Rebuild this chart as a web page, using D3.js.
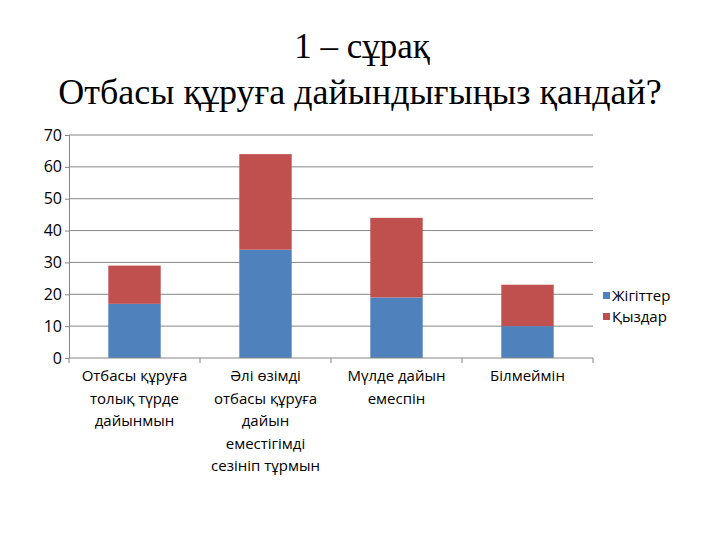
<!DOCTYPE html>
<html><head><meta charset="utf-8">
<script src="https://cdn.jsdelivr.net/npm/d3@7"></script>
<style>body{margin:0;background:#fff}</style>
</head><body>
<svg id="c" width="720" height="540"></svg>
<script>
const categories = [
  ["Отбасы құруға", "толық түрде", "дайынмын"],
  ["Әлі өзімді", "отбасы құруға", "дайын", "еместігімді", "сезініп тұрмын"],
  ["Мүлде дайын", "емеспін"],
  ["Білмеймін"]
];
const seriesNames = ["Жігіттер", "Қыздар"];
const boys = [17, 34, 19, 10];
const girls = [12, 30, 25, 13];
const yTicks = [0, 10, 20, 30, 40, 50, 60, 70];
const colors = ["#4F81BD", "#C0504D"];

const svg = d3.select("#c");
const mLeft = 69, mRight = 593, mTop = 135, mBottom = 358;

svg.append("text").attr("x", 362).attr("y", 58).attr("text-anchor", "middle")
  .attr("font-family", "Liberation Serif").attr("font-size", 35).text("1 – сұрақ");
svg.append("text").attr("x", 360).attr("y", 104).attr("text-anchor", "middle")
  .attr("font-family", "Liberation Serif").attr("font-size", 36).text("Отбасы құруға дайындығыңыз қандай?");

const idx = d3.range(categories.length);
const x = d3.scaleBand().domain(idx).range([mLeft, mRight]).paddingInner(0.6).paddingOuter(0.3);
const y = d3.scaleLinear().domain([0, 70]).range([mBottom, mTop]);

// gridlines
svg.append("g").selectAll("line").data(yTicks.slice(1)).join("line")
  .attr("x1", mLeft).attr("x2", mRight).attr("y1", d => y(d)).attr("y2", d => y(d))
  .attr("stroke", "#868686").attr("stroke-width", 1);

const stackData = idx.map(i => ({i, b: boys[i], g: girls[i]}));
const stack = d3.stack().keys(["b", "g"])(stackData);
svg.append("g").selectAll("g").data(stack).join("g").attr("fill", (d, k) => colors[k])
  .selectAll("rect").data(d => d).join("rect")
  .attr("x", d => x(d.data.i)).attr("width", x.bandwidth())
  .attr("y", d => y(d[1])).attr("height", d => y(d[0]) - y(d[1]));

// y axis
const ya = svg.append("g").attr("transform", `translate(${mLeft},0)`)
  .call(d3.axisLeft(y).tickValues(yTicks).tickSize(4).tickPadding(3));
ya.select(".domain").attr("stroke", "#868686");
ya.selectAll(".tick line").attr("stroke", "#868686");
ya.selectAll("text").attr("font-family", "Open Sans").attr("font-size", 16).attr("fill", "#000");

// x axis
const xa = svg.append("g").attr("transform", `translate(0,${mBottom})`);
xa.append("line").attr("x1", mLeft).attr("x2", mRight).attr("stroke", "#868686");
const bounds = d3.range(categories.length + 1).map(k => mLeft + k * (mRight - mLeft) / categories.length);
xa.selectAll(".t").data(bounds).join("line").attr("class", "t")
  .attr("x1", d => d).attr("x2", d => d).attr("y1", 0).attr("y2", 5).attr("stroke", "#868686");
xa.selectAll(".lab").data(categories).join("text").attr("class", "lab")
  .attr("text-anchor", "middle").attr("font-family", "Open Sans").attr("font-size", 15)
  .each(function(d, i) {
    const t = d3.select(this);
    d.forEach((ln, j) => t.append("tspan").attr("x", x(i) + x.bandwidth() / 2)
      .attr("y", 23 + j * 22.5).text(ln));
  });

// legend
const lg = svg.append("g");
seriesNames.forEach((n, k) => {
  lg.append("rect").attr("x", 603).attr("y", 292 + k * 21).attr("width", 7).attr("height", 7).attr("fill", colors[k]);
  lg.append("text").attr("x", 612).attr("y", 301 + k * 21).attr("font-family", "Open Sans")
    .attr("font-size", 15).text(n);
});
</script>
</body></html>
